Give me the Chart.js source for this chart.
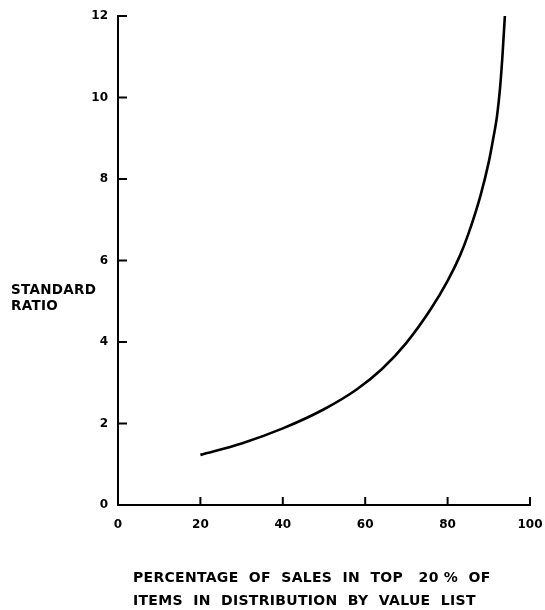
<!DOCTYPE html>
<html>
<head>
<meta charset="utf-8">
<script src="https://cdn.jsdelivr.net/npm/chart.js@4.4.1/dist/chart.umd.min.js"></script>
<style>
  html, body { margin: 0; padding: 0; background: #fff; }
  #wrap { width: 545px; height: 610px; }
</style>
</head>
<body>
<div id="wrap"><canvas id="ratioChart"></canvas></div>
<script>
// values
var pct_sales = [20, 30, 40, 50, 58, 64, 70, 76, 80, 83, 85, 88, 90, 91, 92, 92.7, 93.3, 93.9];
var std_ratio = [1.23, 1.51, 1.88, 2.35, 2.84, 3.33, 3.98, 4.82, 5.5, 6.12, 6.64, 7.6, 8.42, 8.95, 9.55, 10.2, 11.0, 12.0];
var x_ticks = [0, 20, 40, 60, 80, 100];
var y_ticks = [0, 2, 4, 6, 8, 10, 12];
var y_title = ['STANDARD', 'RATIO'];
var x_title = ['PERCENTAGE  OF  SALES  IN  TOP   20 %  OF', 'ITEMS  IN  DISTRIBUTION  BY  VALUE  LIST'];

var points = pct_sales.map(function (x, i) { return { x: x, y: std_ratio[i] }; });
var lettering = '"DejaVu Sans", "Liberation Sans", sans-serif';

//inward tick marks + free-standing axis titles
var extras = {
    id: 'extras',
    afterDraw: function (chart) {
        var ctx = chart.ctx, xs = chart.scales.x, ys = chart.scales.y;
        var area = chart.chartArea;
        ctx.save();
        ctx.strokeStyle = '#000';
        ctx.lineWidth = 2;
        ctx.beginPath();
        x_ticks.forEach(function (v) {
            if (v === 0) return;
            var px = xs.getPixelForValue(v);
            ctx.moveTo(px, area.bottom);
            ctx.lineTo(px, area.bottom - 8);
        });
        y_ticks.forEach(function (v) {
            if (v === 0) return;
            var py = ys.getPixelForValue(v);
            ctx.moveTo(area.left, py);
            ctx.lineTo(area.left + 9, py);
        });
        ctx.stroke();

        ctx.fillStyle = '#000';
        ctx.textAlign = 'left';
        ctx.textBaseline = 'middle';
        if ('letterSpacing' in ctx) ctx.letterSpacing = '0.3px';
        ctx.font = 'bold 13.5px ' + lettering;
        var ty = ys.getPixelForValue(5.27);
        ctx.fillText(y_title[0], 11, ty);
        ctx.fillText(y_title[1], 11, ty + 16);

        ctx.font = 'bold 14px ' + lettering;
        ctx.fillText(x_title[0], 133, 578);
        ctx.fillText(x_title[1], 133, 601);
        ctx.restore();
    }
};

new Chart(document.getElementById('ratioChart').getContext('2d'), {
    type: 'line',
    data: {
        datasets: [{
            label: 'Standard ratio',
            data: points,
            borderColor: '#000',
            borderWidth: 2.6,
            pointRadius: 0,
            fill: false,
            cubicInterpolationMode: 'monotone'
        }]
    },
    options: {
        responsive: true,
        maintainAspectRatio: false,
        animation: false,
        layout: { padding: { left: 0, top: 16, right: 15, bottom: 0 } },
        plugins: {
            legend: { display: false },
            tooltip: { enabled: false }
        },
        scales: {
            x: {
                type: 'linear',
                min: 0,
                max: 100,
                afterFit: function (s) { s.height = 105; s.paddingLeft = 0; s.paddingRight = 0; },
                afterBuildTicks: function (s) { s.ticks = x_ticks.map(function (v) { return { value: v }; }); },
                grid: { display: false, drawTicks: false },
                border: { display: true, color: '#000', width: 2 },
                ticks: { color: '#000', padding: 13, font: { family: lettering, size: 12, weight: 'bold' } }
            },
            y: {
                type: 'linear',
                min: 0,
                max: 12,
                afterFit: function (s) { s.width = 118; s.paddingTop = 0; s.paddingBottom = 0; },
                afterBuildTicks: function (s) { s.ticks = y_ticks.map(function (v) { return { value: v }; }); },
                grid: { display: false, drawTicks: false },
                border: { display: true, color: '#000', width: 2 },
                ticks: { color: '#000', padding: 10, font: { family: lettering, size: 12, weight: 'bold' } }
            }
        }
    },
    plugins: [extras]
});
</script>
</body>
</html>
